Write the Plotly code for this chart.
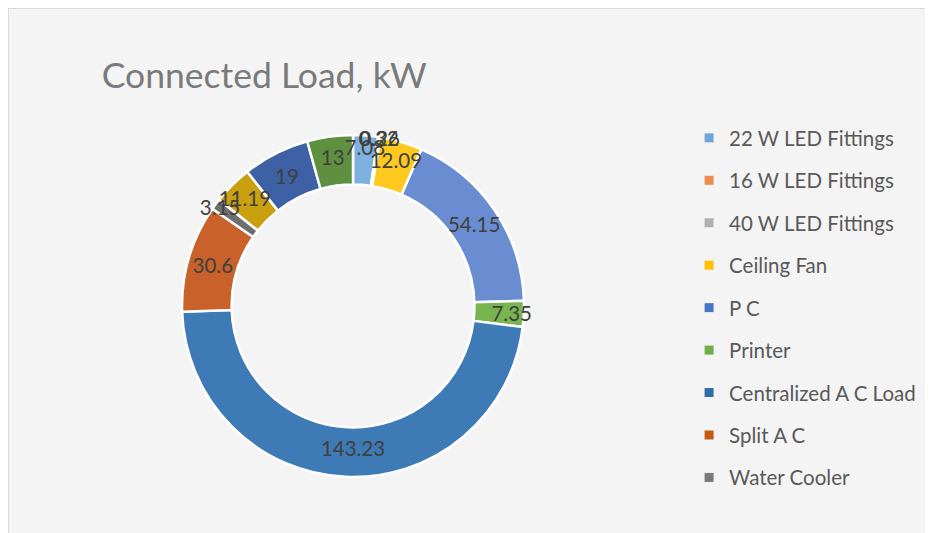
import plotly.graph_objects as go

# ---- data ----
categories = ["22 W LED Fittings", "16 W LED Fittings", "40 W LED Fittings", "Ceiling Fan",
              "P C", "Printer", "Centralized A C Load", "Split A C", "Water Cooler",
              "Item 10", "Item 11", "Item 12"]
values = [7.08, 0.32, 0.26, 12.09, 54.15, 7.35, 143.23, 30.6, 3.15, 11.19, 19, 13]
colors = ["#7DB1E0", "#ED7D31", "#A5A5A5", "#FFC91F", "#6A8DD2", "#78B450",
          "#3E7BB6", "#C8622A", "#6E6E6E", "#C9A010", "#3D61A4", "#5F9040"]
legend_names = categories[:9]
legend_colors = ["#6FA7DC", "#F08A4B", "#B0B0B0", "#FFC000", "#4A76C8", "#70AD47",
                 "#2F6DA8", "#C55A11", "#7A7A7A"]

FONT = "Lato, Noto Sans, sans-serif"
dom = dict(x=[0.1865, 0.5531], y=[0.1201, 0.7617])

fig = go.Figure()

# coloured ring
fig.add_trace(go.Pie(
    labels=categories, values=values, sort=False, direction="clockwise", rotation=0,
    hole=0.71, marker=dict(colors=colors, line=dict(color="white", width=2.5)),
    textinfo="none", showlegend=False, domain=dom,
))
# value labels drawn on top of every slice
fig.add_trace(go.Pie(
    labels=categories, values=values, sort=False, direction="clockwise", rotation=0,
    hole=0.71, marker=dict(colors=["rgba(0,0,0,0)"] * len(values), line=dict(width=0)),
    textinfo="value", textposition="inside", insidetextorientation="horizontal",
    textfont=dict(family=FONT, size=20.5, color="#404040"),
    showlegend=False, hoverinfo="skip", domain=dom,
))

for name, col in zip(legend_names, legend_colors):
    fig.add_trace(go.Scatter(
        x=[None], y=[None], mode="markers", name=name, legendgroup=name,
        marker=dict(symbol="square", size=9, color=col),
    ))

fig.update_layout(
    width=933, height=533,
    margin=dict(l=0, r=0, t=0, b=0),
    paper_bgcolor="#F4F4F4", plot_bgcolor="rgba(0,0,0,0)",
    xaxis=dict(visible=False), yaxis=dict(visible=False),
    title=dict(text="Connected Load, kW", x=0.1005, xanchor="left", y=0.874, yanchor="middle",
               font=dict(family=FONT, size=35.5, color="#7A7A7A")),
    legend=dict(x=0.730, y=0.7936, xanchor="left", yanchor="top", tracegroupgap=12.8,
                bgcolor="rgba(255,255,255,0)",
                font=dict(family=FONT, size=20.5, color="#595959")),
    uniformtext=dict(minsize=20.5, mode="show"),
    shapes=[dict(type="rect", xref="paper", yref="paper", x0=0, x1=1.2, y0=-0.2, y1=1,
                 line=dict(color="#D0D0D0", width=1.5), fillcolor="rgba(0,0,0,0)", layer="below")],
)

fig.write_html("out.html")
